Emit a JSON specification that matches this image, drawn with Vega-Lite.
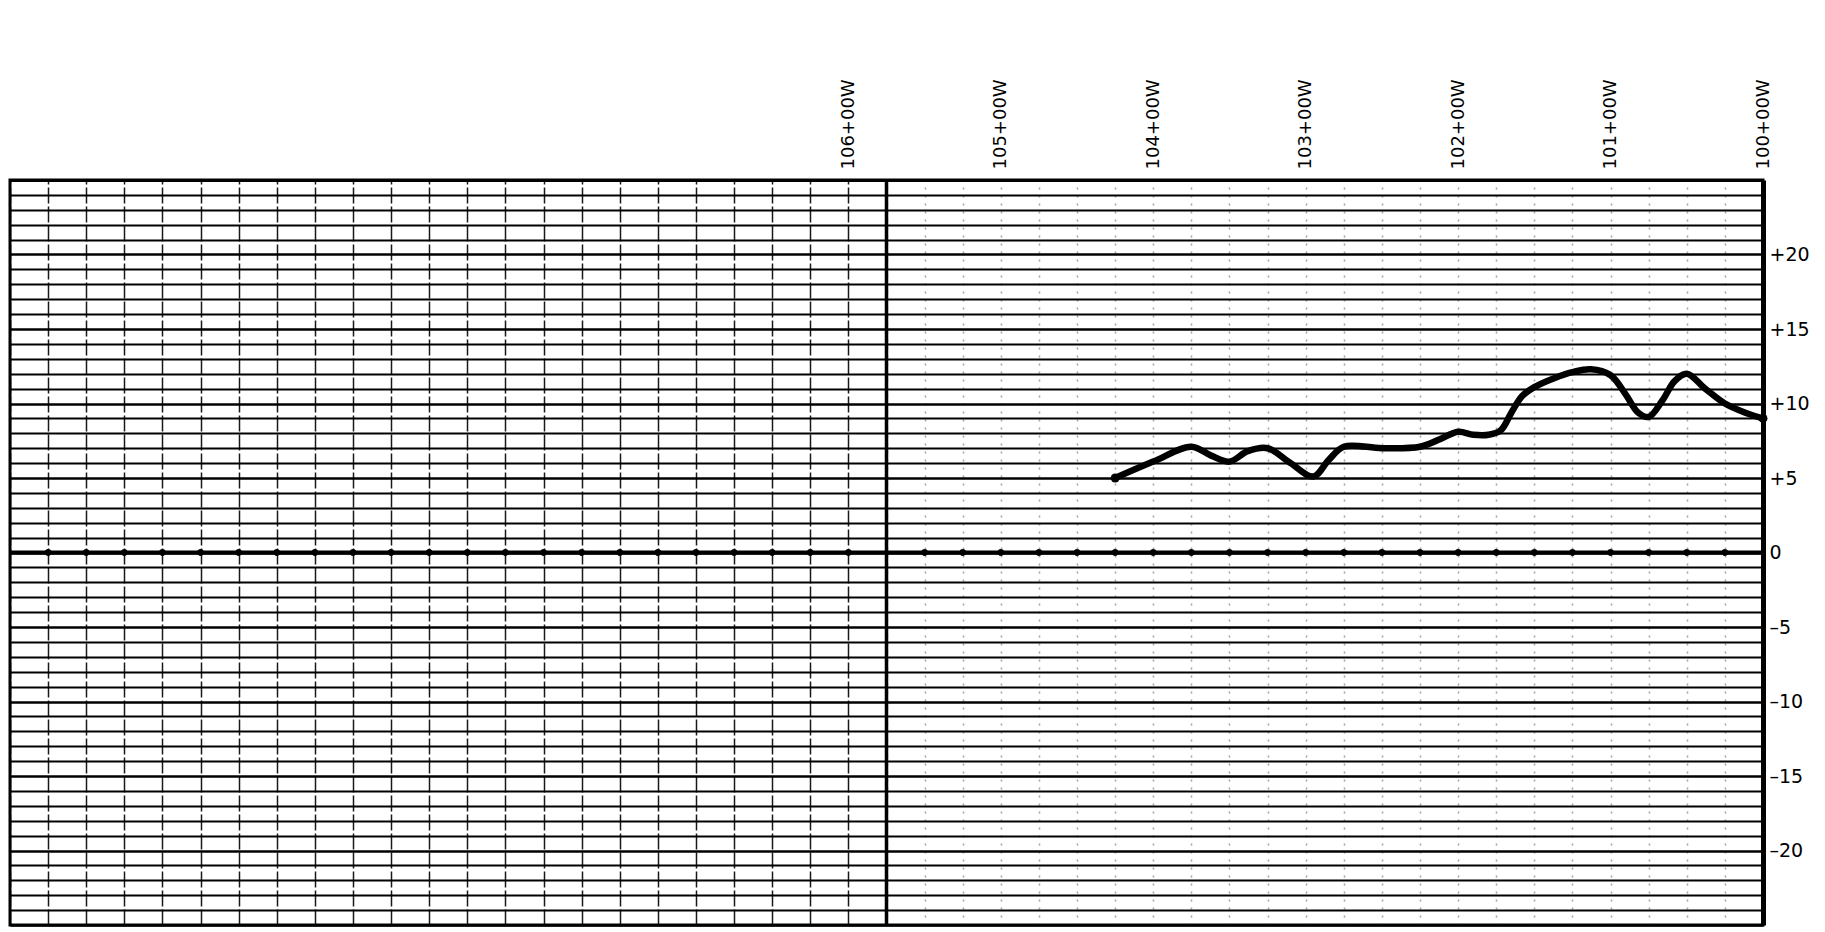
{
  "$schema": "https://vega.github.io/schema/vega-lite/v6.json",
  "width": 1753,
  "height": 745,
  "autosize": {"type": "none"},
  "padding": {"left": 10, "top": 180, "right": 62, "bottom": 7},
  "background": "white",
  "config": {"view": {"stroke": "black", "strokeWidth": 3}, "font": "DejaVu Sans"},
  "datasets": {
    "profile": [
      {"sta": 10000, "elev": 9.0}, {"sta": 10012, "elev": 9.4}, {"sta": 10025, "elev": 10.0},
      {"sta": 10038, "elev": 11.0}, {"sta": 10050, "elev": 12.0}, {"sta": 10058, "elev": 11.5},
      {"sta": 10066, "elev": 10.2}, {"sta": 10075, "elev": 9.1}, {"sta": 10082, "elev": 9.4},
      {"sta": 10090, "elev": 10.6}, {"sta": 10100, "elev": 11.9}, {"sta": 10113, "elev": 12.3},
      {"sta": 10125, "elev": 12.1}, {"sta": 10137, "elev": 11.7}, {"sta": 10150, "elev": 11.1},
      {"sta": 10158, "elev": 10.5}, {"sta": 10165, "elev": 9.4}, {"sta": 10172, "elev": 8.2},
      {"sta": 10180, "elev": 7.9}, {"sta": 10190, "elev": 7.9}, {"sta": 10200, "elev": 8.1},
      {"sta": 10212, "elev": 7.6}, {"sta": 10225, "elev": 7.1}, {"sta": 10250, "elev": 7.0},
      {"sta": 10275, "elev": 7.1}, {"sta": 10285, "elev": 6.2}, {"sta": 10295, "elev": 5.1},
      {"sta": 10310, "elev": 6.0}, {"sta": 10325, "elev": 7.0}, {"sta": 10338, "elev": 6.8},
      {"sta": 10350, "elev": 6.1}, {"sta": 10362, "elev": 6.5}, {"sta": 10375, "elev": 7.1},
      {"sta": 10400, "elev": 6.1}, {"sta": 10425, "elev": 5.0}
    ],
    "stations": [
      {"sta": 10025}, {"sta": 10050}, {"sta": 10075}, {"sta": 10100}, {"sta": 10125}, {"sta": 10150},
      {"sta": 10175}, {"sta": 10200}, {"sta": 10225}, {"sta": 10250}, {"sta": 10275}, {"sta": 10300},
      {"sta": 10325}, {"sta": 10350}, {"sta": 10375}, {"sta": 10400}, {"sta": 10425}, {"sta": 10450},
      {"sta": 10475}, {"sta": 10500}, {"sta": 10525}, {"sta": 10550}, {"sta": 10600},
      {"sta": 10625}, {"sta": 10650}, {"sta": 10675}, {"sta": 10700}, {"sta": 10725}, {"sta": 10750},
      {"sta": 10775}, {"sta": 10800}, {"sta": 10825}, {"sta": 10850}, {"sta": 10875}, {"sta": 10900},
      {"sta": 10925}, {"sta": 10950}, {"sta": 10975}, {"sta": 11000}, {"sta": 11025}, {"sta": 11050},
      {"sta": 11075}, {"sta": 11100}, {"sta": 11125}
    ],
    "sheetline": [{"sta": 10575}],
    "datum": [{"elev": 0}]
  },
  "layer": [
    {
      "data": {"name": "stations"},
      "mark": {"type": "point", "filled": true, "color": "black", "size": 40, "opacity": 1},
      "encoding": {
        "x": {
          "field": "sta", "type": "quantitative",
          "scale": {"domain": [10000, 11150], "reverse": true, "nice": false, "zero": false},
          "axis": {
            "orient": "top", "title": null, "tickCount": 200,
            "values": [10000,10025,10050,10075,10100,10125,10150,10175,10200,10225,10250,10275,10300,10325,10350,10375,10400,10425,10450,10475,10500,10525,10550,10575,10600,10625,10650,10675,10700,10725,10750,10775,10800,10825,10850,10875,10900,10925,10950,10975,11000,11025,11050,11075,11100,11125,11150],
            "tickSize": 0, "domain": true, "domainWidth": 3, "domainColor": "black",
            "labelAngle": 270, "labelAlign": "left", "labelBaseline": "middle",
            "labelPadding": 11, "labelFontSize": 18, "labelColor": "black",
            "labelOverlap": false, "labelFlush": false,
            "labelExpr": "(datum.value % 100 === 0 && datum.value <= 10600) ? floor(datum.value / 100) + '+00W' : ''",
            "grid": true,
            "gridColor": {"condition": {"test": "datum.value > 10575", "value": "#000000"}, "value": "#555555"},
            "gridDash": {"condition": {"test": "datum.value > 10575", "value": [16, 3]}, "value": [2, 6]},
            "gridOpacity": {"condition": {"test": "datum.value > 10575", "value": 0.9}, "value": 0.55},
            "gridWidth": 1.5
          }
        },
        "y": {
          "datum": 0, "type": "quantitative",
          "scale": {"domain": [-25, 25], "nice": false, "zero": false},
          "axis": {
            "orient": "right", "title": null, "tickCount": 200,
            "values": [-25,-24,-23,-22,-21,-20,-19,-18,-17,-16,-15,-14,-13,-12,-11,-10,-9,-8,-7,-6,-5,-4,-3,-2,-1,0,1,2,3,4,5,6,7,8,9,10,11,12,13,14,15,16,17,18,19,20,21,22,23,24,25],
            "tickSize": 0, "domain": true, "domainWidth": 5, "domainColor": "black",
            "labelPadding": 6, "labelFontSize": 19, "labelColor": "black", "labelOverlap": false,
            "labelFlush": false,
            "labelExpr": "(datum.value % 5 === 0 && abs(datum.value) < 25) ? (datum.value > 0 ? '+' + datum.value : (datum.value === 0 ? '0' : '–' + abs(datum.value))) : ''",
            "grid": true,
            "gridColor": "#000000",
            "gridOpacity": 1,
            "gridWidth": {"condition": {"test": "datum.value % 5 === 0", "value": 2.6}, "value": 1.8}
          }
        }
      }
    },
    {
      "data": {"name": "datum"},
      "mark": {"type": "rule", "color": "black", "strokeWidth": 4},
      "encoding": {"y": {"field": "elev", "type": "quantitative"}}
    },
    {
      "data": {"name": "sheetline"},
      "mark": {"type": "rule", "color": "black", "strokeWidth": 3.5},
      "encoding": {"x": {"field": "sta", "type": "quantitative"}}
    },
    {
      "data": {"name": "stations"},
      "mark": {"type": "point", "filled": true, "color": "black", "size": 40, "opacity": 1},
      "encoding": {
        "x": {"field": "sta", "type": "quantitative"},
        "y": {"datum": 0, "type": "quantitative"}
      }
    },
    {
      "data": {"name": "profile"},
      "mark": {"type": "line", "color": "black", "strokeWidth": 6.5, "interpolate": "catmull-rom", "strokeCap": "round", "strokeJoin": "round"},
      "encoding": {
        "x": {"field": "sta", "type": "quantitative"},
        "y": {"field": "elev", "type": "quantitative"}
      }
    },
    {
      "data": {"name": "profile"},
      "transform": [{"filter": "datum.sta === 10000 || datum.sta === 10425"}],
      "mark": {"type": "point", "filled": true, "color": "black", "size": 80, "opacity": 1},
      "encoding": {
        "x": {"field": "sta", "type": "quantitative"},
        "y": {"field": "elev", "type": "quantitative"}
      }
    }
  ]
}
